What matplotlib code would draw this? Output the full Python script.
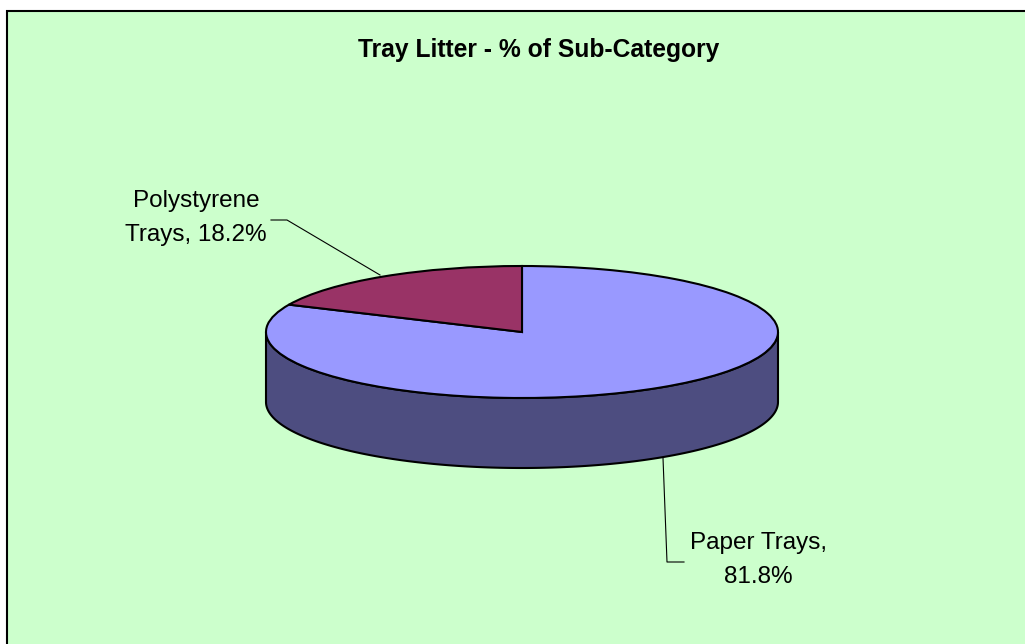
import numpy as np
import matplotlib
matplotlib.use("Agg")
import matplotlib.pyplot as plt
from matplotlib.patches import Wedge, Polygon
from matplotlib.transforms import Affine2D

labels = ["Paper Trays,\n81.8%", "Polystyrene\nTrays, 18.2%"]
values = [81.8, 18.2]
top_colors = ["#9999FF", "#993366"]
side_colors = ["#4D4D80", "#4D1A33"]

plt.rcParams['font.family'] = ['Liberation Sans', 'DejaVu Sans']

fig = plt.figure(figsize=(10.25, 6.44), dpi=100, facecolor="white")
ax = fig.add_axes([0, 0, 1, 1])
ax.set_xlim(0, 1025)
ax.set_ylim(644, 0)
ax.axis("off")

# chart area, runs off the right and bottom of the picture
ax.add_patch(plt.Rectangle((6.5, 11), 1030, 650, fc="#CCFFCC", ec="black", lw=1.5))
ax.text(539, 50, "Tray Litter - % of Sub-Category", ha="center", va="center",
        fontsize=17.7, fontweight="bold")

# pie geometry (pixels)
cx, cy, rx, ry, depth = 522, 332, 256, 66, 70

# y axis points down, so angles grow clockwise on screen; start at the top
angles = [-90.0]
for v in values:
    angles.append(angles[-1] + v / sum(values) * 360)

# side wall: only the front half of the ellipse shows
for i in range(len(values)):
    a0, a1 = max(angles[i], 0), min(angles[i + 1], 180)
    if a1 <= a0:
        continue
    t = np.radians(np.linspace(a0, a1, 200))
    x = cx + rx * np.cos(t)
    y = cy + ry * np.sin(t)
    pts = np.r_[np.c_[x, y], np.c_[x, y + depth][::-1]]
    ax.add_patch(Polygon(pts, closed=True, fc=side_colors[i], ec="black", lw=1.5))

# top faces
tr = Affine2D().scale(rx, ry).translate(cx, cy) + ax.transData
for i in range(len(values)):
    w = Wedge((0, 0), 1, angles[i], angles[i + 1], fc=top_colors[i], ec="black", lw=1.5, transform=tr)
    ax.add_patch(w)

# labels with leader lines
ax.plot([663, 667, 684], [458, 562, 562], color="black", lw=0.8)
ax.text(758, 560, labels[0], ha="center", va="center", fontsize=17.5, linespacing=1.7)
ax.plot([380, 287, 271], [275, 220, 220], color="black", lw=0.8)
ax.text(196, 218, labels[1], ha="center", va="center", fontsize=17.5, linespacing=1.7)

fig.savefig("out.png", dpi=100, facecolor="white")
